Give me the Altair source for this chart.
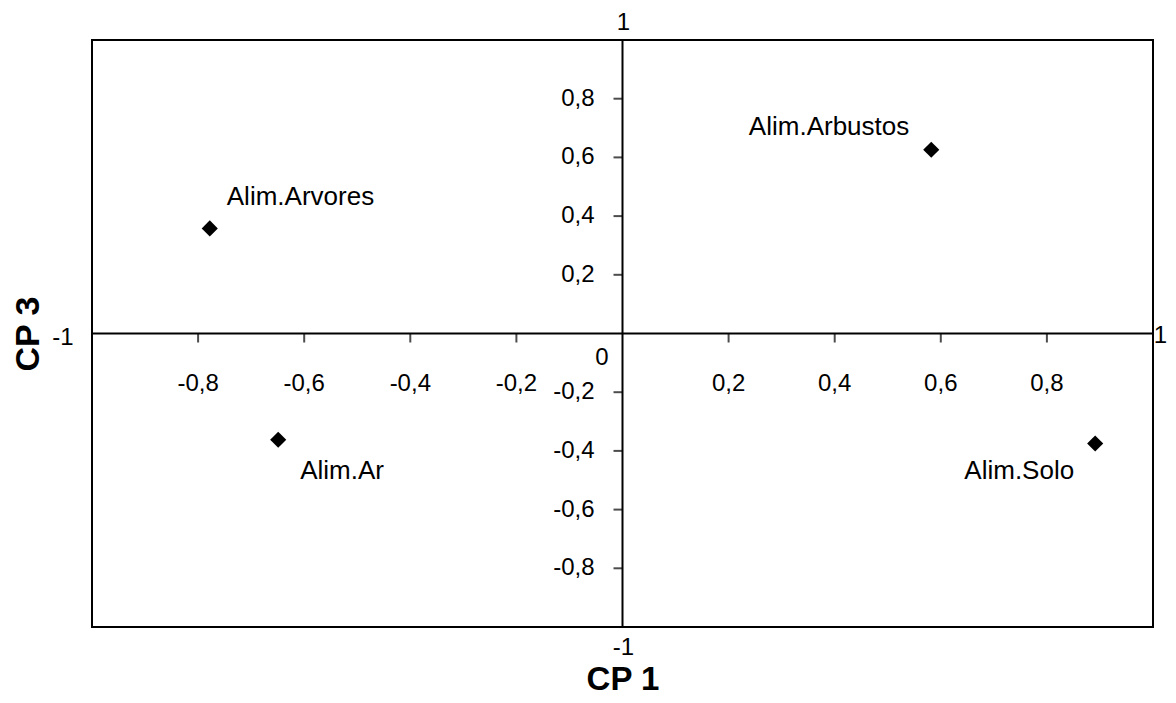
import altair as alt
import pandas as pd

# ---- data ----
names = ["Alim.Arvores", "Alim.Ar", "Alim.Arbustos", "Alim.Solo"]
cp1 = [-0.778, -0.649, 0.582, 0.891]
cp3 = [0.358, -0.362, 0.626, -0.375]

x_tick_vals = [-0.8, -0.6, -0.4, -0.2, 0.2, 0.4, 0.6, 0.8]
x_tick_labels = ["-0,8", "-0,6", "-0,4", "-0,2", "0,2", "0,4", "0,6", "0,8"]
y_tick_vals = [0.8, 0.6, 0.4, 0.2, -0.2, -0.4, -0.6, -0.8]
y_tick_labels = ["0,8", "0,6", "0,4", "0,2", "-0,2", "-0,4", "-0,6", "-0,8"]

FONT = "Liberation Sans"

pts = pd.DataFrame({"name": names, "cp1": cp1, "cp3": cp3})
xt = pd.DataFrame({"v": x_tick_vals, "lab": x_tick_labels, "zero": [0] * len(x_tick_vals)})
yt = pd.DataFrame({"v": y_tick_vals, "lab": y_tick_labels, "zero": [0] * len(y_tick_vals)})
ends = pd.DataFrame({"v": [-1, 1], "lab": ["-1", "1"], "zero": [0, 0]})
origin = pd.DataFrame({"v": [0], "lab": ["0"]})

xs = alt.Scale(domain=[-1, 1], nice=False, zero=False)
ys = alt.Scale(domain=[-1, 1], nice=False, zero=False)
noax = dict(labels=False, ticks=False, domain=False, grid=False)

base_pts = alt.Chart(pts)
X = alt.X("cp1:Q", scale=xs,
          axis=alt.Axis(**noax, title="CP 1", titleFont=FONT, titleFontSize=33,
                        titleFontWeight="bold", titleColor="black",
                        titleBaseline="alphabetic", titleY=62))
Y = alt.Y("cp3:Q", scale=ys,
          axis=alt.Axis(**noax, title="CP 3", titleFont=FONT, titleFontSize=34,
                        titleFontWeight="bold", titleColor="black",
                        titleBaseline="middle", titleX=-64, titleAngle=-90))

points = base_pts.mark_point(shape="diamond", filled=True, color="black", size=260, opacity=1).encode(x=X, y=Y)

def lab(name, dx, dy, align):
    return base_pts.transform_filter(alt.datum.name == name).mark_text(
        font=FONT, fontSize=26, color="black", align=align, baseline="middle", dx=dx, dy=dy
    ).encode(x=alt.X("cp1:Q", scale=xs), y=alt.Y("cp3:Q", scale=ys), text="name:N")

labels = (lab("Alim.Arvores", 17, -31, "left") + lab("Alim.Ar", 22, 31, "left")
          + lab("Alim.Arbustos", -22, -23, "right") + lab("Alim.Solo", -21, 27, "right"))

vline = alt.Chart(origin).mark_rule(color="black", strokeWidth=2).encode(x=alt.X("v:Q", scale=xs))
hline = alt.Chart(origin).mark_rule(color="black", strokeWidth=2).encode(y=alt.Y("v:Q", scale=ys))

xticks = alt.Chart(xt).mark_tick(orient="vertical", color="black", size=9, thickness=2, yOffset=4.5).encode(
    x=alt.X("v:Q", scale=xs), y=alt.Y("zero:Q", scale=ys))
yticks = alt.Chart(yt).mark_tick(orient="horizontal", color="black", size=9, thickness=2, xOffset=-4.5).encode(
    x=alt.X("zero:Q", scale=xs), y=alt.Y("v:Q", scale=ys))

tfont = dict(font=FONT, fontSize=24, color="black")
xlabels = alt.Chart(xt).mark_text(align="center", baseline="middle", dy=50, **tfont).encode(
    x=alt.X("v:Q", scale=xs), y=alt.Y("zero:Q", scale=ys), text="lab:N")
ylabels = alt.Chart(yt).mark_text(align="right", baseline="middle", dx=-28, **tfont).encode(
    x=alt.X("zero:Q", scale=xs), y=alt.Y("v:Q", scale=ys), text="lab:N")
zlabel = alt.Chart(origin).mark_text(align="right", baseline="middle", dx=-14, dy=24, **tfont).encode(
    x=alt.X("v:Q", scale=xs), y=alt.Y("v:Q", scale=ys), text="lab:N")

xend_l = alt.Chart(ends).transform_filter(alt.datum.v < 0).mark_text(
    align="center", baseline="middle", dx=-29, dy=4, **tfont).encode(
    x=alt.X("v:Q", scale=xs), y=alt.Y("zero:Q", scale=ys), text="lab:N")
xend_r = alt.Chart(ends).transform_filter(alt.datum.v > 0).mark_text(
    align="right", baseline="middle", dx=14, dy=2, **tfont).encode(
    x=alt.X("v:Q", scale=xs), y=alt.Y("zero:Q", scale=ys), text="lab:N")
yend_t = alt.Chart(ends).transform_filter(alt.datum.v > 0).mark_text(
    align="center", baseline="middle", dx=1, dy=-17, **tfont).encode(
    x=alt.X("zero:Q", scale=xs), y=alt.Y("v:Q", scale=ys), text="lab:N")
yend_b = alt.Chart(ends).transform_filter(alt.datum.v < 0).mark_text(
    align="center", baseline="middle", dx=1, dy=21, **tfont).encode(
    x=alt.X("zero:Q", scale=xs), y=alt.Y("v:Q", scale=ys), text="lab:N")

chart = alt.layer(
    points, vline, hline, xticks, yticks, xlabels, ylabels, zlabel,
    xend_l, xend_r, yend_t, yend_b, labels
).properties(
    width=1061, height=587,
    autosize=alt.AutoSizeParams(type="none"),
    padding={"left": 84, "top": 32, "right": 15, "bottom": 68},
    background="white",
).configure_view(stroke="black", strokeWidth=2)

chart.save("out.html", embed_options={"renderer": "svg", "actions": False})
